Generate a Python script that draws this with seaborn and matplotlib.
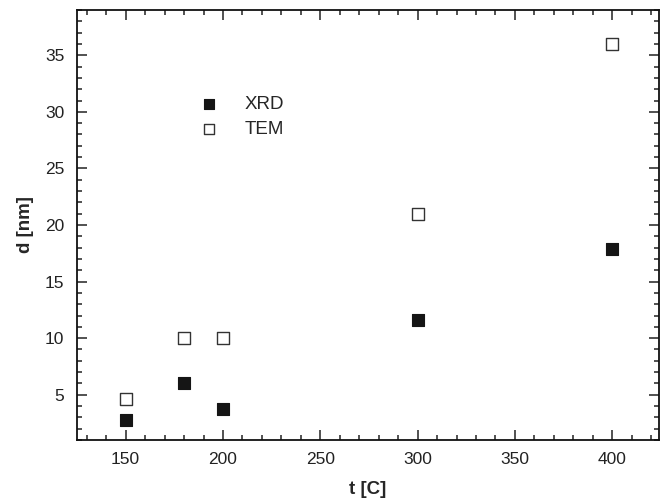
import matplotlib
matplotlib.use("Agg")
import matplotlib.pyplot as plt
from matplotlib.ticker import MultipleLocator
import seaborn as sns
import pandas as pd

# Annealing temperature and crystallite size
temperature = [150, 180, 200, 300, 400]
d_xrd = [2.8, 6.0, 3.7, 11.6, 17.9]
d_tem = [4.6, 10.0, 10.0, 21.0, 36.0]

sns.set_theme(style="ticks")
plt.rcParams["font.family"] = ["Liberation Sans", "DejaVu Sans"]

df = pd.DataFrame({
    "t": temperature * 2,
    "d": d_xrd + d_tem,
    "method": ["XRD"] * len(d_xrd) + ["TEM"] * len(d_tem),
})

fig = plt.figure(figsize=(6.66, 5.03), dpi=100)
ax = fig.add_axes([77 / 666, 1 - 440 / 503, (659 - 77) / 666, (440 - 10) / 503])

sns.scatterplot(data=df[df.method == "XRD"], x="t", y="d", marker="s", s=72,
                color="#151515", edgecolor="#151515", linewidth=0.8, ax=ax,
                label="XRD")
sns.scatterplot(data=df[df.method == "TEM"], x="t", y="d", marker="s", s=72,
                facecolor="white", edgecolor="#333333", linewidth=1.0, ax=ax,
                label="TEM")

ax.set_xlim(125, 424)
ax.set_ylim(1, 39)
ax.xaxis.set_major_locator(MultipleLocator(50))
ax.xaxis.set_minor_locator(MultipleLocator(10))
ax.yaxis.set_major_locator(MultipleLocator(5))
ax.yaxis.set_minor_locator(MultipleLocator(1))
ax.set_yticks([5, 10, 15, 20, 25, 30, 35])

ax.tick_params(which="both", direction="in", top=True, right=True,
               labelsize=12.5, colors="#222222", width=1.1)
ax.tick_params(which="major", length=7, pad=9)
ax.tick_params(which="minor", length=3.5)
for sp in ax.spines.values():
    sp.set_linewidth(1.3)
    sp.set_color("#111111")

ax.set_xlabel("t [C]", fontsize=13.5, fontweight="bold", labelpad=10)
ax.set_ylabel("d [nm]", fontsize=13.5, fontweight="bold", labelpad=8)

leg = ax.legend(loc="upper left", bbox_to_anchor=(0.165, 0.84), frameon=False,
                fontsize=13.5, handletextpad=0.9, labelspacing=0.45,
                markerscale=0.9)

fig.savefig("out.png", dpi=100)
